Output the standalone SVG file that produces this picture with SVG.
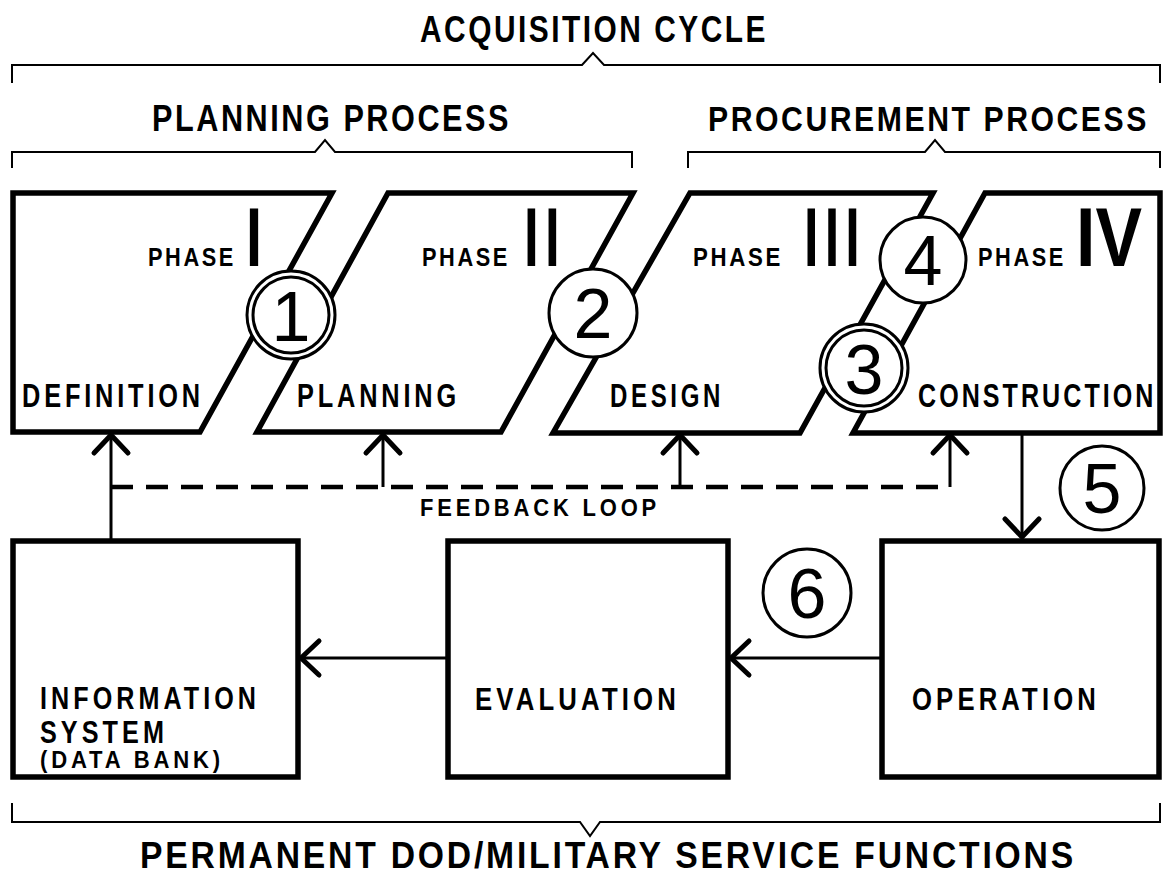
<svg xmlns="http://www.w3.org/2000/svg" width="1163" height="889" viewBox="0 0 1163 889">
<defs>
<style>
text{font-family:"Liberation Sans",Arial,sans-serif;fill:#000;font-weight:bold;}
.title{font-size:36px;letter-spacing:3px;}
.phase{font-size:25px;letter-spacing:3px;}
.roman{font-size:84px;}
.lbl{font-size:33px;letter-spacing:5px;}
.blbl{font-size:31px;letter-spacing:5px;}
.small{font-size:23px;letter-spacing:4px;}
.num{font-size:70px;font-weight:normal;text-anchor:middle;}
.box{fill:#fff;stroke:#000;stroke-width:5.5;stroke-linejoin:miter;}
.br{fill:none;stroke:#000;stroke-width:2;}
.ln{fill:none;stroke:#000;stroke-width:3;}
.dash{fill:none;stroke:#000;stroke-width:4.5;stroke-dasharray:22 13;}
.circ{fill:#fff;stroke:#000;stroke-width:3;}
</style>
<marker id="ah" markerUnits="userSpaceOnUse" viewBox="-24 -22 28 44" refX="0" refY="0" markerWidth="28" markerHeight="44" orient="auto">
<path d="M-18,-17 L0,0 L-18,17" fill="none" stroke="#000" stroke-width="5" stroke-linecap="round" stroke-linejoin="round"/>
</marker>
</defs>
<rect width="1163" height="889" fill="#fff"/>

<g id="brackets">
<path class="br" d="M12,83 L12,65 L582,65 L593,53 L604,65 L1160,65 L1160,83"/>
<path class="br" d="M12,168 L12,152 L315,152 L325,140 L335,152 L632,152 L632,168"/>
<path class="br" d="M688,168 L688,152 L925,152 L935,140 L945,152 L1160,152 L1160,168"/>
<path class="br" d="M12,803 L12,822 L580,822 L590,836 L600,822 L1160,822 L1160,803"/>
</g>
<g id="titles">
<text class="title" x="420" y="42" textLength="348" lengthAdjust="spacingAndGlyphs">ACQUISITION CYCLE</text>
<text class="title" x="152" y="131" textLength="359" lengthAdjust="spacingAndGlyphs">PLANNING PROCESS</text>
<text class="title" transform="translate(708,131) scale(0.84,1)" x="0" y="0" style="letter-spacing:3px">PROCUREMENT PROCESS</text>
<text class="title" x="140" y="868" textLength="936" lengthAdjust="spacingAndGlyphs">PERMANENT  DOD/MILITARY SERVICE FUNCTIONS</text>
</g>

<g id="connectors">
<path class="ln" d="M111,540 L111,435" marker-end="url(#ah)"/>
<path class="dash" d="M111,487 L950,487"/>
<path class="ln" d="M950,487 L950,435" marker-end="url(#ah)"/>
<path class="ln" d="M383,487 L383,435" marker-end="url(#ah)"/>
<path class="ln" d="M680,487 L680,435" marker-end="url(#ah)"/>
<path class="ln" d="M1022,433 L1022,537" marker-end="url(#ah)"/>
<path class="ln" d="M882,658 L731,658" marker-end="url(#ah)"/>
<path class="ln" d="M448,658 L301,658" marker-end="url(#ah)"/>
<text class="small" x="420" y="516" textLength="240" lengthAdjust="spacingAndGlyphs">FEEDBACK LOOP</text>
</g>

<g id="phase1">
<path class="box" d="M13,193 L332,193 L200,432 L13,432 Z"/>
<text class="phase" x="148" y="266" textLength="88" lengthAdjust="spacingAndGlyphs">PHASE</text>
<text class="roman" x="246" y="266" textLength="16" lengthAdjust="spacingAndGlyphs">I</text>
<text class="lbl" x="22" y="407" textLength="182" lengthAdjust="spacingAndGlyphs">DEFINITION</text>
</g>
<g id="phase2">
<path class="box" d="M388,193 L633,193 L501,432 L257,432 Z"/>
<text class="phase" x="422" y="266" textLength="88" lengthAdjust="spacingAndGlyphs">PHASE</text>
<text class="roman" x="524" y="266" textLength="42" lengthAdjust="spacingAndGlyphs" style="letter-spacing:10px">II</text>
<text class="lbl" x="297" y="407" textLength="163" lengthAdjust="spacingAndGlyphs">PLANNING</text>
</g>
<g id="phase3">
<path class="box" d="M690,193 L933,193 L800,433 L553,433 Z"/>
<text class="phase" x="693" y="266" textLength="90" lengthAdjust="spacingAndGlyphs">PHASE</text>
<text class="roman" x="804" y="266" textLength="62" lengthAdjust="spacingAndGlyphs" style="letter-spacing:10px">III</text>
<text class="lbl" x="610" y="407" textLength="114" lengthAdjust="spacingAndGlyphs">DESIGN</text>
</g>
<g id="phase4">
<path class="box" d="M985,193 L1160,193 L1160,433 L853,433 Z"/>
<text class="phase" x="978" y="266" textLength="88" lengthAdjust="spacingAndGlyphs">PHASE</text>
<text class="roman" x="1076" y="266" textLength="66" lengthAdjust="spacingAndGlyphs">IV</text>
<text class="lbl" transform="translate(918,407) scale(0.76,1)" x="0" y="0" style="letter-spacing:4px">CONSTRUCTION</text>
</g>

<g id="info">
<rect class="box" x="13" y="541" width="285" height="236"/>
<text class="blbl" x="40" y="709" textLength="220" lengthAdjust="spacingAndGlyphs">INFORMATION</text>
<text class="blbl" x="40" y="743" textLength="128" lengthAdjust="spacingAndGlyphs">SYSTEM</text>
<text class="small" x="40" y="768" textLength="184" lengthAdjust="spacingAndGlyphs">(DATA BANK)</text>
</g>
<g id="evaluation">
<rect class="box" x="448" y="541" width="280" height="236"/>
<text class="blbl" x="475" y="710" textLength="205" lengthAdjust="spacingAndGlyphs">EVALUATION</text>
</g>
<g id="operation">
<rect class="box" x="882" y="541" width="277" height="236"/>
<text class="blbl" x="912" y="710" textLength="188" lengthAdjust="spacingAndGlyphs">OPERATION</text>
</g>

<g id="c1"><circle class="circ" cx="291" cy="315" r="44"/><circle class="circ" cx="291" cy="315" r="38"/><text class="num" x="291" y="341">1</text></g>
<g id="c2"><circle class="circ" cx="593" cy="313" r="44"/><text class="num" x="593" y="338">2</text></g>
<g id="c3"><circle class="circ" cx="864" cy="368" r="44"/><circle class="circ" cx="864" cy="368" r="38"/><text class="num" x="864" y="394">3</text></g>
<g id="c4"><circle class="circ" cx="923" cy="260" r="43"/><text class="num" x="923" y="285">4</text></g>
<g id="c5"><circle class="circ" cx="1102" cy="488" r="42"/><text class="num" x="1102" y="513">5</text></g>
<g id="c6"><circle class="circ" cx="807" cy="593" r="44"/><text class="num" x="807" y="618">6</text></g>
</svg>
